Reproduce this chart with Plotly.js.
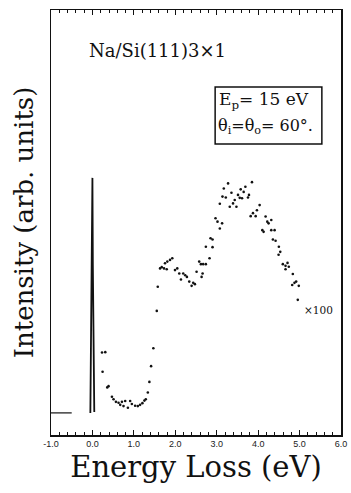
<!DOCTYPE html>
<html>
<head>
<meta charset="utf-8">
<script src="https://cdn.plot.ly/plotly-3.0.1.min.js"></script>
<style>html,body{margin:0;padding:0;background:#fff;}#chart{width:351px;height:493px;}</style>
</head>
<body>
<div id="chart"></div>
<script>
// Loss spectrum (x100), energy loss in eV vs intensity (arb. units)
const lossEnergy = [0.231,0.245,0.310,0.358,0.389,0.471,0.510,0.567,0.630,0.671,0.712,0.750,0.791,0.856,0.911,0.952,1.031,1.096,1.151,1.207,1.255,1.288,1.337,1.375,1.416,1.471,1.553,1.577,1.632,1.673,1.728,1.752,1.793,1.808,1.873,1.928,1.993,2.048,2.096,2.137,2.192,2.240,2.281,2.337,2.394,2.433,2.474,2.514,2.577,2.618,2.635,2.659,2.673,2.738,2.738,2.827,2.851,2.899,2.899,2.971,3.019,3.075,3.075,3.130,3.139,3.171,3.219,3.274,3.315,3.356,3.394,3.435,3.476,3.514,3.555,3.579,3.611,3.651,3.692,3.755,3.779,3.820,3.851,3.875,3.940,3.971,4.036,4.101,4.132,4.180,4.221,4.252,4.317,4.317,4.356,4.397,4.421,4.493,4.500,4.534,4.596,4.661,4.661,4.709,4.740,4.822,4.837,4.877,4.918,4.957,4.981];
const lossIntensity = [19.4,14.9,19.5,11.2,11.5,9.0,8.4,7.8,7.6,7.1,7.8,6.8,8.0,6.4,8.0,7.3,6.9,6.8,7.1,7.5,8.1,8.4,10.0,12.5,16.2,20.4,29.2,34.9,39.2,39.5,39.2,40.4,39.0,40.8,41.2,41.6,38.8,39.2,38.0,36.6,38.0,37.6,37.2,36.1,35.1,35.8,35.5,38.4,40.8,40.2,37.2,38.0,40.2,40.2,44.3,41.6,46.3,46.0,44.2,51.0,50.2,54.4,48.6,49.8,56.1,58.0,55.9,59.2,53.7,57.0,54.5,55.3,53.7,56.5,55.8,57.8,55.7,57.2,58.4,55.9,56.5,51.5,59.5,52.2,51.5,52.9,54.1,48.2,47.8,51.4,50.2,49.8,50.6,48.2,46.0,48.2,45.7,42.4,44.3,43.1,40.2,39.8,39.0,40.5,39.6,35.3,37.9,35.8,36.1,31.8,35.1];
// Elastic peak and baseline
const baseEnergy = [-1.0, -0.5];
const baseIntensity = [5.2, 5.2];
const peakEnergy = [-0.05, -0.01, 0.0, 0.01, 0.045];
const peakIntensity = [5.2, 40, 60.5, 40, 5.4];
const tickVals = [-1, 0, 1, 2, 3, 4, 5, 6];
const tickText = ["-1.0", "0.0", "1.0", "2.0", "3.0", "4.0", "5.0", "6.0"];

const serif = "DejaVu Serif, serif";
const traces = [
  {x: baseEnergy, y: baseIntensity, mode: "lines", line: {color: "#111", width: 1.2}, hoverinfo: "skip"},
  {x: peakEnergy, y: peakIntensity, mode: "lines", line: {color: "#111", width: 1.8}, hoverinfo: "skip"},
  {x: lossEnergy, y: lossIntensity, mode: "markers", marker: {color: "#111", size: 2.6}}
];
const layout = {
  width: 351, height: 493,
  margin: {l: 51, r: 10, t: 10, b: 58},
  paper_bgcolor: "#fff", plot_bgcolor: "#fff",
  showlegend: false,
  xaxis: {
    range: [-1, 6], tickvals: tickVals, ticktext: tickText,
    ticks: "inside", ticklen: 5, tickwidth: 1, tickcolor: "#111",
    minor: {dtick: 0.2, ticks: "inside", ticklen: 3, tickwidth: 1, tickcolor: "#111"},
    showline: true, linecolor: "#111", linewidth: 1.5, mirror: "ticks",
    showgrid: false, zeroline: false,
    tickfont: {family: "Liberation Sans, Arial, sans-serif", size: 9, color: "#222"},
    title: {text: "Energy Loss (eV)", font: {family: serif, size: 29, color: "#111"}, standoff: 8}
  },
  yaxis: {
    range: [0, 100], showticklabels: false, ticks: "",
    showline: true, linecolor: "#111", linewidth: 1.5, mirror: true,
    showgrid: false, zeroline: false,
    title: {text: "Intensity (arb. units)", font: {family: serif, size: 26, color: "#111"}, standoff: 8}
  },
  shapes: [
    {type: "rect", xref: "paper", yref: "paper", x0: 0.566, x1: 0.934, y0: 0.685, y1: 0.819,
     line: {color: "#111", width: 1.5}, fillcolor: "rgba(0,0,0,0)"}
  ],
  annotations: [
    {text: "Na/Si(111)3×1", xref: "paper", yref: "paper", x: 0.367, y: 0.905, xanchor: "center", yanchor: "middle", showarrow: false,
     font: {family: serif, size: 18, color: "#111"}},
    {text: "E<sub>p</sub>= 15 eV", xref: "paper", yref: "paper", x: 0.572, y: 0.786, xanchor: "left", yanchor: "middle", showarrow: false,
     font: {family: serif, size: 17, color: "#111"}},
    {text: "θ<sub>i</sub>=θ<sub>o</sub>= 60°.", xref: "paper", yref: "paper", x: 0.570, y: 0.725, xanchor: "left", yanchor: "middle", showarrow: false,
     font: {family: serif, size: 16, color: "#111"}},
    {text: "×100", xref: "paper", yref: "paper", x: 0.921, y: 0.293, xanchor: "center", yanchor: "middle", showarrow: false,
     font: {family: serif, size: 10.5, color: "#111"}}
  ]
};
Plotly.newPlot("chart", traces, layout, {staticPlot: true, displayModeBar: false});
</script>
</body>
</html>
